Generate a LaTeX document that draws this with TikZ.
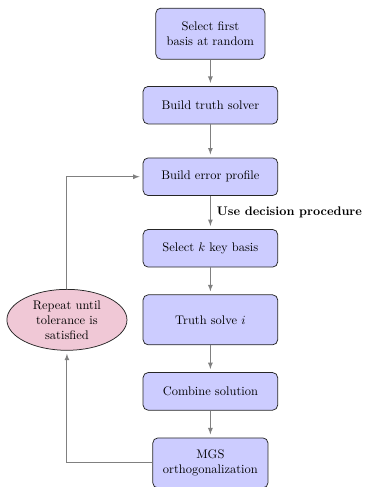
\documentclass[tikz,border=0pt]{standalone}
\usetikzlibrary{shapes.geometric, arrows, positioning}
\definecolor{looppink}{RGB}{240,200,214}
\tikzstyle{block} = [rectangle, rounded corners, minimum width=3.8cm, minimum height=1.06cm, align=center, fill=blue!20, draw=black!85, semithick]
\tikzstyle{cloud} = [ellipse, minimum width=3.39cm, minimum height=1.72cm, inner sep=0pt, align=center, fill=looppink, draw=black!85, semithick]
\tikzstyle{line} = [thick, draw=gray, ->, >=latex, shorten >=2.5pt]
\begin{document}
\begin{tikzpicture}[node distance=2.02cm]
\useasboundingbox (-5.94,0.95) rectangle (4.36,-12.80);

\node (first) [block, minimum width=3.08cm, minimum height=1.44cm] {Select first\\basis at random};
\node (truth) [block, below of=first] {Build truth solver};
\node (error) [block, below of=truth] {Build error profile};
\node (select) [block, below of=error] {Select $k$ key basis};
\node (solve) [block, below of=select, minimum height=1.41cm] {Truth solve $i$};
\node (combine) [block, below of=solve] {Combine solution};
\node (mgs) [block, below of=combine, minimum width=3.25cm, minimum height=1.41cm] {MGS\\orthogonalization};

\node (repeat) [cloud, left of=solve, xshift=-2.03cm] {Repeat until\\tolerance is\\satisfied};

\draw[line] (first) -- (truth);
\draw[line] (truth) -- (error);
\draw[line] (error) -- node[right, xshift=1.5pt, font=\bfseries] {Use decision procedure} (select);
\draw[line] (select) -- (solve);
\draw[line] (solve) -- (combine);
\draw[line] (combine) -- (mgs);
\draw[line] (mgs) -| (repeat);
\draw[line] (repeat) |- (error);
\end{tikzpicture}
\end{document}
